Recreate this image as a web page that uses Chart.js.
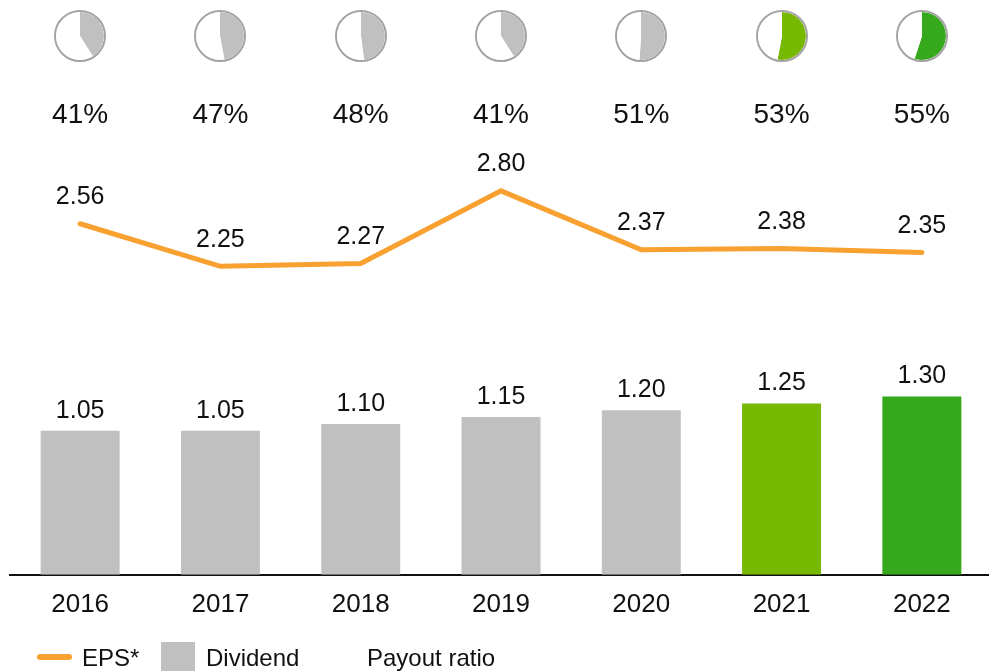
<!DOCTYPE html>
<html>
<head>
<meta charset="utf-8">
<script src="https://cdn.jsdelivr.net/npm/chart.js@4/dist/chart.umd.min.js"></script>
<style>
  html, body { margin: 0; padding: 0; background: #fff; overflow: hidden; }
  #wrap { position: relative; width: 989px; height: 671px; overflow: hidden; }
  #mainChart { position: absolute; left: 0; top: 0; }
  .pie { position: absolute; top: 10px; width: 52px; height: 52px; box-sizing: border-box;
         border: 2px solid #a3a3a3; border-radius: 50%; overflow: hidden; background: #fff; }
  .pie canvas { display: block; }
  .legend { position: absolute; font-family: "Liberation Sans", Arial, sans-serif; font-size: 24px;
            color: #111; line-height: 24px; }
</style>
</head>
<body>
<div id="wrap">
  <canvas id="mainChart" width="992" height="671"></canvas>
  <div id="pies"></div>
  <div class="legend" style="left:37px;top:654px;width:35px;height:6px;background:#f8a030;border-radius:3px;"></div>
  <div class="legend" style="left:82px;top:646px;">EPS*</div>
  <div class="legend" style="left:161px;top:642px;width:34px;height:30px;background:#c0c0c0;"></div>
  <div class="legend" style="left:206px;top:646px;">Dividend</div>
  <div class="legend" style="left:367px;top:646px;">Payout ratio</div>
</div>
<script>
const years = ["2016", "2017", "2018", "2019", "2020", "2021", "2022"];
const dividend = [1.05, 1.05, 1.10, 1.15, 1.20, 1.25, 1.30];
const eps = [2.56, 2.25, 2.27, 2.80, 2.37, 2.38, 2.35];
const payout = [41, 47, 48, 41, 51, 53, 55];

const barColors = ["#c0c0c0", "#c0c0c0", "#c0c0c0", "#c0c0c0", "#c0c0c0", "#77b800", "#36a81c"];
const FONT = "Liberation Sans, Arial, sans-serif";

// value labels above bars and line points, payout % row at the top
const labelPlugin = {
  id: "valueLabels",
  afterDatasetsDraw(chart) {
    const ctx = chart.ctx;
    ctx.save();
    ctx.fillStyle = "#111";
    ctx.textAlign = "center";
    ctx.textBaseline = "middle";
    ctx.font = "25px " + FONT;

    const bars = chart.getDatasetMeta(1).data;
    bars.forEach((bar, i) => {
      ctx.fillText(dividend[i].toFixed(2), bar.x, bar.y - 20);
    });

    const pts = chart.getDatasetMeta(0).data;
    pts.forEach((pt, i) => {
      ctx.fillText(eps[i].toFixed(2), pt.x, pt.y - 26.5);
    });

    ctx.font = "28px " + FONT;
    bars.forEach((bar, i) => {
      ctx.fillText(payout[i] + "%", bar.x, 115);
    });
    ctx.restore();
  }
};

const mainChart = new Chart(document.getElementById("mainChart"), {
  data: {
    labels: years,
    datasets: [
      {
        type: "line",
        label: "EPS*",
        data: eps,
        borderColor: "#f8a030",
        borderWidth: 5,
        borderCapStyle: "round",
        pointRadius: 0,
        tension: 0,
        order: 0
      },
      {
        type: "bar",
        label: "Dividend",
        data: dividend,
        backgroundColor: barColors,
        barPercentage: 0.563,
        categoryPercentage: 1,
        order: 1
      }
    ]
  },
  options: {
    responsive: false,
    animation: false,
    layout: { padding: { left: 10, right: 0, top: 136, bottom: 37 } },
    plugins: {
      legend: { display: false },
      tooltip: { enabled: false }
    },
    scales: {
      x: {
        grid: { display: false, drawTicks: false },
        border: { display: true, color: "#111", width: 2 },
        ticks: { color: "#111", font: { family: FONT, size: 26 }, padding: 14 }
      },
      y: {
        display: false,
        min: 0,
        max: 3.2
      }
    }
  },
  plugins: [labelPlugin]
});

// small payout ratio pies, one per year, centred over each category
const pieBox = document.getElementById("pies");
payout.forEach((p, i) => {
  const x = mainChart.scales.x.getPixelForValue(i);
  const div = document.createElement("div");
  div.className = "pie";
  div.style.left = (x - 26) + "px";
  const cv = document.createElement("canvas");
  cv.width = 48;
  cv.height = 48;
  div.appendChild(cv);
  pieBox.appendChild(div);

  new Chart(cv, {
    type: "pie",
    data: {
      labels: ["Payout", "Rest"],
      datasets: [{
        data: [p, 100 - p],
        backgroundColor: [barColors[i], "#ffffff"],
        borderWidth: 0
      }]
    },
    options: {
      responsive: false,
      animation: false,
      events: [],
      plugins: { legend: { display: false }, tooltip: { enabled: false } }
    }
  });
});
</script>
</body>
</html>
